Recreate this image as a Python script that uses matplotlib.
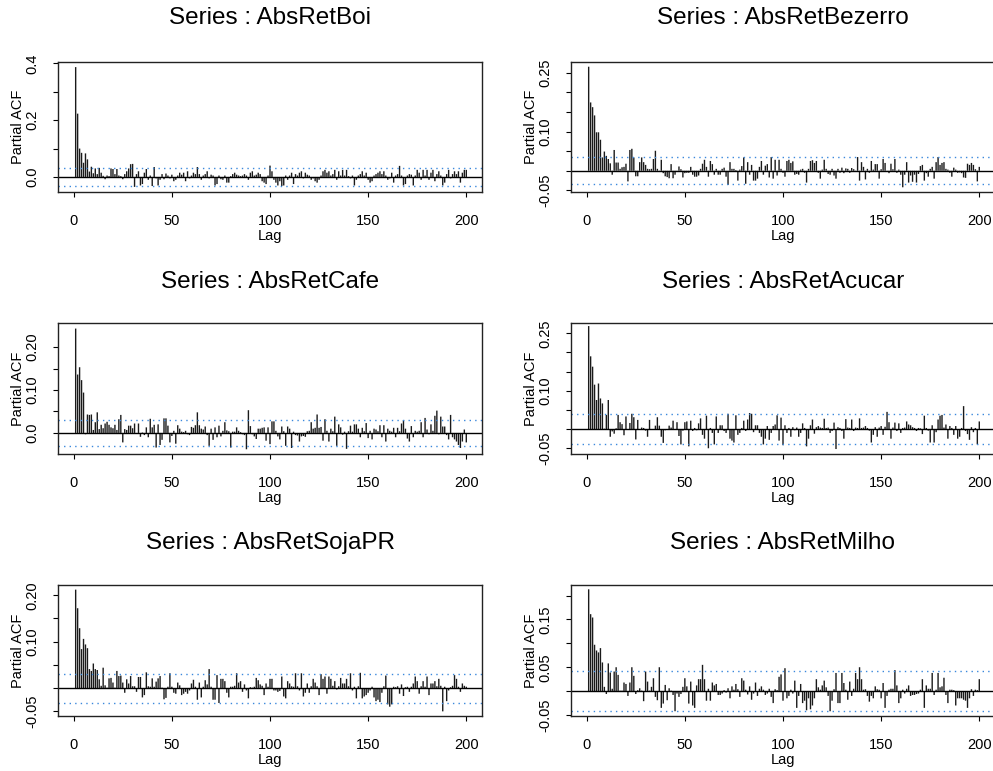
import numpy as np
import matplotlib
matplotlib.use("Agg")
import matplotlib.pyplot as plt

plt.rcParams['font.family'] = ['Liberation Sans', 'DejaVu Sans']

# ---------------- data (partial autocorrelations, lags 1..200) ----------------
titles = ["Series : AbsRetBoi", "Series : AbsRetBezerro", "Series : AbsRetCafe",
          "Series : AbsRetAcucar", "Series : AbsRetSojaPR", "Series : AbsRetMilho"]

boi = [0.387, 0.223, 0.100, 0.085, 0.050, 0.083, 0.062, 0.019, 0.036, 0.013,
       0.030, 0.010, 0.032, 0.015, 0.004, -0.008, 0.005, 0.003, 0.030, 0.028,
       0.010, 0.028, 0.005, 0.003, -0.008, 0.010, 0.020, 0.030, 0.045, 0.046,
       -0.035, 0.010, 0.020, -0.030, -0.025, 0.015, 0.028, -0.010, 0.005, -0.032,
       0.035, -0.005, -0.030, -0.010, 0.010, -0.008, 0.012, 0.005, -0.005, 0.008,
       -0.015, -0.010, 0.005, 0.015, 0.008, 0.015, -0.015, 0.020, -0.005, 0.005,
       0.015, 0.010, 0.035, 0.010, -0.010, 0.005, 0.010, 0.020, -0.005, 0.008,
       0.005, -0.030, -0.025, 0.005, -0.008, -0.010, 0.005, -0.020, -0.020, 0.003,
       0.010, 0.015, 0.008, 0.005, 0.003, 0.005, 0.010, 0.005, -0.010, 0.015,
       0.020, 0.005, 0.008, 0.015, 0.010, -0.015, -0.020, -0.025, 0.005, 0.040,
       0.020, -0.010, -0.020, -0.030, -0.015, -0.032, -0.030, 0.005, -0.010, 0.005,
       0.015, -0.025, 0.010, 0.005, 0.015, 0.020, -0.005, 0.015, 0.008, 0.005,
       -0.010, -0.005, -0.015, -0.020, -0.010, 0.005, 0.020, 0.025, 0.015, 0.020,
       0.005, 0.010, 0.025, -0.010, 0.020, 0.005, 0.025, 0.005, 0.025, 0.003,
       -0.005, 0.005, -0.030, -0.010, 0.005, 0.010, 0.020, 0.005, 0.015, -0.010,
       -0.020, -0.015, 0.005, 0.010, 0.015, 0.020, 0.010, 0.020, 0.005, -0.010,
       -0.005, 0.015, -0.020, 0.005, 0.010, 0.039, 0.005, -0.030, -0.025, 0.005,
       0.010, 0.008, -0.030, 0.005, 0.025, 0.015, -0.010, 0.025, 0.005, 0.025,
       -0.010, 0.015, 0.025, -0.015, 0.010, 0.020, 0.005, -0.030, -0.020, 0.010,
       0.025, -0.005, 0.010, 0.020, 0.010, 0.020, -0.020, 0.015, 0.025, 0.025]

bezerro = [0.265, 0.174, 0.162, 0.141, 0.098, 0.098, 0.079, 0.034, 0.049, 0.038,
           0.030, 0.019, -0.010, 0.053, 0.021, 0.021, 0.005, 0.009, 0.010, 0.018,
           -0.027, 0.053, 0.056, 0.034, -0.014, -0.014, 0.022, 0.034, 0.022, 0.015,
           0.005, 0.004, 0.005, 0.030, 0.051, 0.005, -0.002, 0.028, -0.006, -0.014,
           -0.016, -0.019, 0.017, -0.019, -0.010, -0.003, 0.011, 0.004, -0.017, -0.006,
           -0.005, -0.005, 0.010, -0.010, -0.015, -0.015, -0.012, 0.005, 0.018, 0.028,
           0.010, -0.015, 0.025, 0.017, -0.010, 0.005, -0.010, -0.010, 0.005, 0.008,
           -0.015, -0.036, 0.022, 0.005, 0.005, 0.002, -0.025, 0.003, 0.012, 0.034,
           -0.033, 0.022, -0.010, 0.015, -0.025, -0.025, -0.020, 0.010, 0.025, -0.010,
           0.013, 0.017, -0.017, 0.035, -0.020, 0.028, -0.012, 0.028, 0.005, -0.005,
           -0.015, 0.025, 0.028, 0.020, 0.024, -0.010, -0.008, -0.010, 0.003, 0.005,
           -0.005, -0.030, 0.005, 0.025, 0.027, 0.020, 0.025, -0.005, -0.020, 0.003,
           0.028, 0.005, -0.008, -0.010, 0.005, -0.012, -0.020, 0.005, -0.005, 0.008,
           -0.006, 0.006, 0.005, -0.005, 0.007, 0.004, -0.003, 0.035, -0.025, 0.022,
           0.010, -0.022, 0.005, -0.005, 0.025, 0.003, 0.017, 0.017, -0.020, 0.004,
           0.030, 0.020, -0.003, -0.006, 0.018, 0.004, 0.030, -0.005, 0.003, -0.010,
           -0.042, -0.010, 0.022, -0.030, -0.012, -0.028, -0.010, -0.030, -0.008, 0.012,
           0.015, -0.025, -0.006, -0.015, 0.005, 0.010, -0.020, 0.022, 0.035, 0.015,
           0.020, 0.022, 0.005, 0.003, -0.005, -0.015, 0.008, 0.003, -0.005, -0.004,
           -0.006, -0.017, -0.018, 0.018, 0.015, 0.020, 0.015, 0.004, -0.027, 0.010]

cafe = [0.243, 0.136, 0.153, 0.123, 0.094, -0.003, 0.043, 0.042, 0.043, 0.007,
        0.025, 0.048, 0.009, 0.019, 0.011, 0.022, 0.026, 0.019, 0.013, 0.011,
        0.019, 0.007, 0.032, 0.042, -0.022, 0.009, 0.007, 0.017, 0.017, 0.011,
        0.022, -0.002, 0.022, -0.009, 0.001, -0.005, 0.013, -0.010, 0.033, 0.013,
        0.019, -0.034, 0.020, -0.028, -0.016, 0.034, 0.034, 0.017, -0.022, -0.007,
        0.005, -0.025, 0.018, 0.010, 0.003, 0.002, 0.005, -0.003, -0.005, 0.014,
        0.012, 0.018, 0.048, 0.018, 0.010, 0.008, 0.015, -0.005, -0.030, 0.010,
        -0.016, 0.013, -0.010, 0.017, -0.008, 0.005, 0.025, 0.006, 0.004, -0.034,
        0.003, 0.003, 0.013, 0.005, 0.002, -0.003, -0.005, -0.038, 0.053, 0.016,
        -0.003, -0.008, -0.014, 0.010, 0.010, 0.012, 0.013, -0.018, 0.013, -0.026,
        0.027, 0.027, 0.005, -0.008, -0.015, 0.015, 0.004, -0.030, 0.015, 0.010,
        -0.035, 0.003, -0.005, -0.006, -0.020, -0.008, -0.007, -0.009, 0.004, 0.005,
        0.025, 0.010, 0.012, 0.043, 0.012, 0.014, -0.018, 0.032, 0.005, -0.020,
        0.010, 0.004, 0.038, -0.030, 0.020, 0.013, -0.004, 0.003, -0.037, 0.004,
        0.017, 0.003, 0.020, 0.020, 0.010, -0.010, 0.012, 0.004, 0.023, -0.012,
        0.005, -0.015, 0.010, 0.008, 0.004, 0.018, -0.010, 0.018, -0.020, 0.010,
        0.005, 0.003, 0.012, -0.010, 0.012, 0.004, 0.022, 0.030, 0.010, -0.013,
        -0.020, 0.016, -0.010, 0.005, 0.003, 0.005, 0.025, -0.010, 0.035, 0.008,
        -0.003, 0.020, 0.005, 0.040, 0.052, -0.003, 0.038, 0.015, 0.015, -0.005,
        -0.015, 0.042, -0.010, -0.015, -0.020, -0.028, -0.035, -0.020, 0.008, -0.022]

acucar = [0.269, 0.190, 0.163, 0.116, 0.076, 0.119, 0.080, 0.067, 0.001, 0.037,
          0.076, -0.020, -0.006, -0.012, 0.002, 0.037, 0.018, 0.013, -0.016, 0.033,
          -0.002, 0.016, 0.040, 0.031, -0.027, 0.024, -0.002, 0.004, 0.003, -0.004,
          -0.020, 0.024, 0.000, -0.002, 0.009, 0.031, 0.009, -0.020, -0.036, -0.003,
          -0.002, 0.009, 0.004, 0.022, -0.002, 0.018, -0.018, -0.040, -0.004, 0.018,
          0.020, -0.045, 0.022, -0.005, 0.003, -0.003, 0.015, 0.028, -0.015, -0.025,
          0.035, -0.050, 0.003, -0.010, -0.040, 0.033, -0.010, 0.010, 0.010, -0.005,
          -0.010, 0.040, -0.025, -0.030, -0.035, 0.036, -0.015, -0.010, 0.003, 0.022,
          -0.005, 0.025, 0.042, 0.040, -0.008, 0.010, 0.010, -0.010, -0.020, -0.040,
          -0.025, 0.008, -0.028, -0.010, 0.008, 0.012, 0.036, -0.030, 0.030, -0.042,
          0.010, -0.010, 0.003, -0.020, 0.005, -0.003, 0.004, -0.020, -0.010, 0.015,
          0.003, -0.045, -0.025, 0.010, 0.025, -0.012, 0.005, 0.008, 0.004, 0.003,
          0.027, 0.003, 0.004, -0.010, -0.005, 0.017, -0.052, 0.005, 0.003, -0.005,
          -0.025, 0.026, 0.004, 0.003, 0.025, -0.005, 0.004, 0.003, 0.028, 0.003,
          0.004, 0.008, 0.003, -0.004, -0.035, -0.015, 0.005, -0.020, 0.004, 0.008,
          -0.015, 0.006, 0.045, 0.018, -0.025, 0.004, 0.017, -0.005, 0.015, -0.010,
          0.003, 0.004, 0.020, 0.012, 0.010, 0.005, 0.003, -0.005, 0.003, 0.002,
          -0.013, 0.035, 0.003, -0.004, -0.035, 0.010, -0.035, -0.008, 0.025, 0.035,
          0.037, 0.004, 0.012, -0.025, 0.008, 0.003, -0.015, 0.008, -0.025, -0.020,
          0.003, 0.060, -0.005, -0.013, -0.028, 0.005, -0.008, 0.003, -0.040, 0.020]

sojapr = [0.212, 0.172, 0.129, 0.084, 0.106, 0.094, 0.086, 0.041, 0.037, 0.053,
          0.041, 0.039, 0.019, 0.005, 0.044, 0.006, 0.001, 0.021, 0.022, 0.012,
          0.001, 0.037, 0.026, 0.027, 0.012, -0.010, 0.019, 0.010, 0.026, 0.004,
          0.004, -0.008, 0.024, 0.024, -0.020, -0.015, 0.034, 0.004, 0.003, 0.021,
          0.003, 0.014, 0.021, 0.026, 0.001, -0.024, -0.021, 0.003, 0.032, 0.003,
          -0.010, -0.012, 0.012, 0.006, -0.015, -0.012, -0.008, -0.012, -0.005, 0.010,
          0.018, 0.003, -0.025, 0.012, -0.020, 0.003, 0.017, 0.008, 0.041, 0.003,
          -0.025, -0.025, 0.028, -0.032, 0.020, 0.020, 0.015, -0.010, -0.020, 0.003,
          0.003, 0.005, 0.032, 0.012, 0.015, -0.008, 0.008, -0.005, -0.022, 0.002,
          0.001, 0.003, 0.022, 0.017, 0.008, 0.005, -0.015, 0.010, 0.003, 0.020,
          0.020, -0.005, -0.005, -0.008, -0.006, 0.025, -0.018, -0.022, 0.015, 0.010,
          0.004, 0.003, 0.032, 0.004, -0.005, 0.032, -0.018, -0.010, 0.010, -0.010,
          0.004, 0.020, 0.012, 0.004, -0.015, 0.030, 0.020, 0.025, -0.012, 0.025,
          0.020, 0.005, 0.015, -0.003, 0.004, 0.022, 0.010, 0.010, 0.020, 0.004,
          0.032, -0.005, 0.003, -0.022, 0.004, 0.033, -0.022, -0.018, -0.015, -0.010,
          -0.005, 0.003, -0.020, -0.028, -0.025, -0.030, -0.010, 0.004, 0.027, -0.035,
          -0.040, -0.035, 0.003, 0.002, 0.004, -0.012, 0.008, -0.017, 0.002, 0.003,
          -0.008, 0.003, 0.010, 0.025, 0.015, -0.012, 0.004, 0.015, 0.003, 0.025,
          -0.015, 0.010, 0.010, 0.015, 0.004, 0.020, 0.005, -0.050, 0.003, -0.028,
          -0.005, 0.002, 0.005, 0.028, 0.020, 0.003, -0.008, 0.010, 0.005, 0.003]

milho = [0.213, 0.161, 0.154, 0.097, 0.085, 0.081, 0.090, 0.060, 0.009, -0.006,
         0.058, 0.039, 0.005, 0.041, 0.050, 0.034, 0.001, 0.001, 0.018, 0.015,
         -0.010, 0.018, 0.050, 0.032, -0.006, 0.002, 0.006, 0.001, -0.021, 0.041,
         0.020, 0.001, 0.009, 0.027, -0.012, -0.019, 0.050, -0.035, -0.026, 0.013,
         -0.019, 0.006, 0.001, -0.008, -0.042, -0.005, -0.012, -0.006, 0.009, 0.027,
         0.010, -0.026, 0.020, -0.030, -0.035, 0.012, 0.025, 0.025, 0.055, 0.025,
         -0.020, 0.005, -0.020, 0.018, 0.012, 0.015, -0.008, -0.008, -0.005, 0.002,
         -0.003, 0.006, -0.015, 0.010, 0.003, 0.015, 0.004, -0.012, 0.027, 0.022,
         0.003, -0.007, 0.010, -0.018, -0.005, 0.018, -0.010, 0.005, 0.010, 0.003,
         -0.008, -0.005, 0.005, -0.012, -0.025, 0.004, 0.002, 0.030, 0.035, -0.020,
         0.048, -0.015, -0.010, 0.003, -0.005, 0.022, -0.035, -0.010, 0.015, -0.025,
         -0.020, -0.040, -0.015, -0.038, -0.030, -0.015, 0.025, 0.008, 0.003, 0.012,
         0.022, 0.008, -0.010, -0.042, -0.020, 0.004, 0.038, -0.025, -0.025, 0.038,
         0.017, 0.003, -0.018, 0.020, -0.010, 0.005, 0.038, 0.025, 0.050, 0.025,
         0.003, 0.004, -0.010, -0.022, -0.010, -0.015, 0.010, 0.004, 0.003, -0.015,
         0.017, -0.035, -0.010, 0.003, 0.005, 0.005, 0.044, 0.012, -0.025, -0.015,
         0.003, -0.005, 0.005, 0.012, -0.010, -0.008, -0.008, -0.006, -0.005, 0.003,
         0.025, -0.035, 0.012, 0.005, 0.005, 0.038, -0.008, 0.003, 0.038, 0.008,
         0.010, 0.028, -0.008, -0.025, 0.003, 0.003, 0.002, -0.030, -0.015, -0.015,
         -0.015, -0.018, -0.020, -0.035, -0.015, 0.004, -0.010, 0.003, 0.002, 0.025]

series = [boi, bezerro, cafe, acucar, sojapr, milho]
conf_limits = [0.031, 0.0345, 0.030, 0.0395, 0.031, 0.0415]
y_limits = [(-0.053, 0.405), (-0.054, 0.277), (-0.049, 0.256),
            (-0.065, 0.277), (-0.060, 0.222), (-0.052, 0.222)]
y_ticks = [[0.0, 0.1, 0.2, 0.3, 0.4],
           [-0.05, 0.0, 0.05, 0.10, 0.15, 0.20, 0.25],
           [0.0, 0.05, 0.10, 0.15, 0.20],
           [-0.05, 0.0, 0.05, 0.10, 0.15, 0.20, 0.25],
           [-0.05, 0.0, 0.05, 0.10, 0.15, 0.20],
           [-0.05, 0.0, 0.05, 0.10, 0.15, 0.20]]
y_ticklabels = [["0.0", "", "0.2", "", "0.4"],
                ["-0.05", "", "", "0.10", "", "", "0.25"],
                ["0.0", "", "0.10", "", "0.20"],
                ["-0.05", "", "", "0.10", "", "", "0.25"],
                ["-0.05", "", "", "0.10", "", "0.20"],
                ["-0.05", "", "0.05", "", "0.15", ""]]
x_ticks = [0, 50, 100, 150, 200]

# ---------------- layout ----------------
W, H = 993, 771
fig = plt.figure(figsize=(W / 100, H / 100), dpi=100)

col_left = [58, 571]
ax_w = 424
row_top = [62, 323, 585]
ax_h = [130, 131, 131]
title_y = [18, 282, 543]

ci_color = '#3a88dc'

for i, vals in enumerate(series):
    r, c = divmod(i, 2)
    left = col_left[c]
    top = row_top[r]
    ax = fig.add_axes([left / W, 1 - (top + ax_h[r]) / H, ax_w / W, ax_h[r] / H])
    lags = np.arange(1, len(vals) + 1)
    ax.vlines(lags, 0, vals, color='#1a1a1a', lw=1.0, snap=False)
    ax.axhline(0, color='black', lw=1.0)
    ci = conf_limits[i]
    ax.axhline(ci, color=ci_color, lw=1.0, ls=(0, (1, 3)))
    ax.axhline(-ci, color=ci_color, lw=1.0, ls=(0, (1, 3)))
    ax.set_xlim(-8, 208)
    ax.set_ylim(*y_limits[i])
    ax.set_xticks(x_ticks)
    ax.set_xticklabels([str(t) for t in x_ticks], fontsize=10.5)
    ax.set_yticks(y_ticks[i])
    ax.set_yticklabels(y_ticklabels[i], fontsize=10.5, rotation=90, va='center')
    ax.tick_params(axis='x', length=3.5, width=0.8, pad=12, direction='out')
    ax.tick_params(axis='y', length=3.5, width=0.8, pad=10, direction='out')
    for sp in ax.spines.values():
        sp.set_linewidth(1.0)
        sp.set_color('#222222')
    ax.set_xlabel("Lag", fontsize=10.5, labelpad=1)
    ax.set_ylabel("Partial ACF", fontsize=10.5, labelpad=0)
    fig.text((left + ax_w / 2) / W, 1 - title_y[r] / H, titles[i],
             ha='center', va='center', fontsize=17.5)

fig.savefig("out.png", dpi=100)
